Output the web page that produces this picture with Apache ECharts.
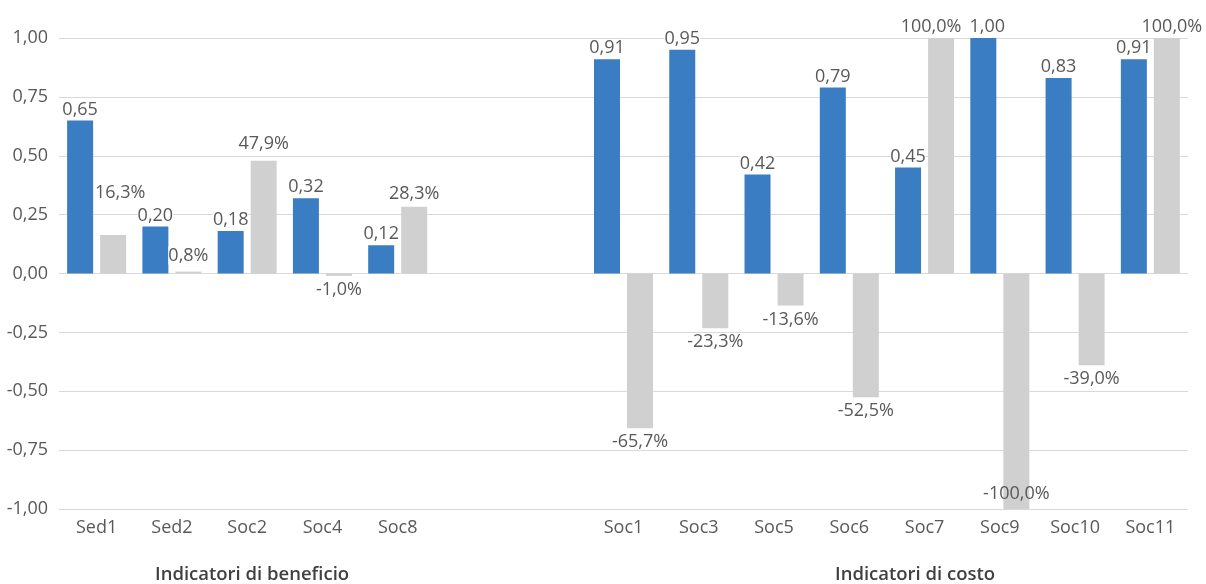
<!DOCTYPE html>
<html>
<head>
<meta charset="utf-8">
<script src="https://cdn.jsdelivr.net/npm/echarts@6/dist/echarts.min.js"></script>
<style>
html,body{margin:0;padding:0;background:#fff;}
#chart{width:1206px;height:584px;}
</style>
</head>
<body>
<div id="chart"></div>
<script>
const categories = ['Sed1','Sed2','Soc2','Soc4','Soc8',' ','  ','Soc1','Soc3','Soc5','Soc6','Soc7','Soc9','Soc10','Soc11'];
const indexValues = [0.65,0.20,0.18,0.32,0.12,null,null,0.91,0.95,0.42,0.79,0.45,1.00,0.83,0.91];
const percentValues = [0.163,0.008,0.479,-0.010,0.283,null,null,-0.657,-0.233,-0.136,-0.525,1.000,-1.000,-0.390,1.000];
const yTicks = {min:-1, max:1, interval:0.25};
const groupTitles = ['Indicatori di beneficio','Indicatori di costo'];

// label nudges (style only), keyed by category index
const indexLabelNudge = {12:[4,0]};
const percentLabelNudge = {0:[7,-31], 1:[0,-5], 2:[0,-6], 4:[0,-2], 11:[-10,0], 14:[5,0]};

const FONT = 'Open Sans';
const TXT = '#595959';

function fmtIndex(v){ return v.toFixed(2).replace('.', ','); }
function fmtPct(v){ return (v*100).toFixed(1).replace('.', ',') + '%'; }

function labelFor(v, nudge){
  const l = {};
  if (v <= -1) Object.assign(l, {position:'insideBottom', backgroundColor:'transparent', distance:6});
  else if (v < 0) Object.assign(l, {position:'bottom', distance:5, backgroundColor:'transparent'});
  else Object.assign(l, {position:'top', distance:2});
  if (nudge) l.offset = nudge;
  return l;
}

const baseLabel = {
  show:true, fontFamily:FONT, fontSize:18, color:TXT,
  backgroundColor:'#fff', padding:0
};

const chart = echarts.init(document.getElementById('chart'), null, {renderer:'canvas'});
chart.setOption({
  animation:false,
  grid:{left:59, right:18, top:38, bottom:75, containLabel:false},
  xAxis:{
    type:'category', data:categories,
    axisLine:{show:false, onZero:false}, axisTick:{show:false},
    axisLabel:{fontFamily:FONT, fontSize:18, color:TXT, margin:10}
  },
  yAxis:{
    type:'value', min:yTicks.min, max:yTicks.max, interval:yTicks.interval,
    axisLine:{show:false}, axisTick:{show:false},
    splitLine:{lineStyle:{color:'#d9d9d9', width:1}},
    axisLabel:{fontFamily:FONT, fontSize:18, color:TXT, margin:11,
      formatter:v=>v.toFixed(2).replace('.', ',')}
  },
  series:[
    {
      type:'bar', name:'Indice', barWidth:26, barGap:'27%',
      itemStyle:{color:'#3a7dc2'},
      data:indexValues.map((v,i)=>v===null?null:{value:v, label:labelFor(v, indexLabelNudge[i])}),
      label:Object.assign({}, baseLabel, {formatter:p=>fmtIndex(p.value)})
    },
    {
      type:'bar', name:'Percentuale', barWidth:26,
      itemStyle:{color:'#d0d0d0'},
      data:percentValues.map((v,i)=>v===null?null:{value:v, label:labelFor(v, percentLabelNudge[i])}),
      label:Object.assign({}, baseLabel, {formatter:p=>fmtPct(p.value)})
    }
  ],
  graphic:[
    {type:'text', left:155, top:565, style:{text:groupTitles[0], font:'600 18.5px "Open Sans"', fill:'#404040'}},
    {type:'text', left:835, top:565, style:{text:groupTitles[1], font:'600 18.5px "Open Sans"', fill:'#404040'}}
  ]
});
</script>
</body>
</html>
